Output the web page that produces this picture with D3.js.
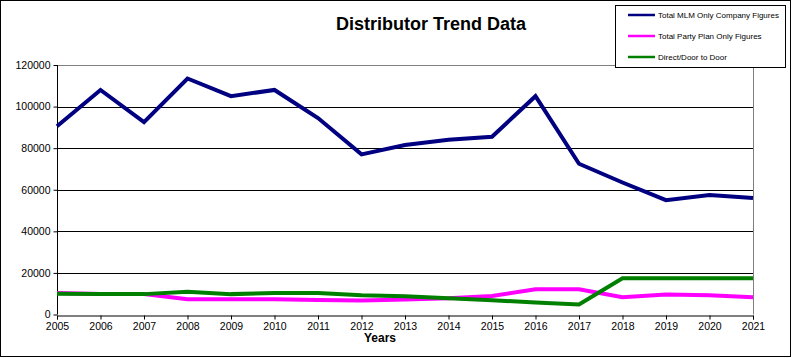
<!DOCTYPE html>
<html><head><meta charset="utf-8">
<script src="https://cdn.jsdelivr.net/npm/d3@7/dist/d3.min.js"></script>
<style>body{margin:0;background:#fff}svg{display:block;font-family:"Liberation Sans",Arial,sans-serif}</style>
</head><body><svg id="c" width="792" height="358"></svg>
<script>
const years = [2005,2006,2007,2008,2009,2010,2011,2012,2013,2014,2015,2016,2017,2018,2019,2020,2021];
const mlm   = [90500,108000,92500,113500,105000,108000,94500,77000,81500,84000,85500,105000,72500,63500,55000,57500,56000];
const party = [10300,9800,9800,7350,7350,7300,7000,6700,7200,7800,8900,12150,12150,8300,9600,9300,8300];
const door  = [10000,9800,9800,11000,9800,10400,10300,9300,8800,7800,6900,5750,4800,17400,17400,17400,17400];
const yTicks = [0,20000,40000,60000,80000,100000,120000];
const seriesNames = ["Total MLM Only Company Figures","Total Party Plan Only Figures","Direct/Door to Door"];
const colors = ["#000080","#FF00FF","#008000"];

const svg = d3.select("#c");
const L=57,R=753,T=65,B=314.5;
const x = d3.scalePoint().domain(years).range([L,R]);
const y = d3.scaleLinear().domain([0,120000]).range([B,T]);

svg.append("rect").attr("x",0.5).attr("y",0.5).attr("width",790).attr("height",356).attr("fill","#fff").attr("stroke","#000");

// gridlines
svg.append("g").selectAll("line").data(yTicks.filter(d=>d>0&&d<120000)).join("line")
  .attr("x1",L).attr("x2",R).attr("y1",d=>Math.round(y(d))+0.5).attr("y2",d=>Math.round(y(d))+0.5)
  .attr("stroke","#000").attr("stroke-width",1);
// plot border top/right gray
svg.append("path").attr("d",`M${L},${Math.round(T)+0.5}H${R+0.5}V${B}`).attr("fill","none").attr("stroke","#808080");

// axes
const ya = svg.append("g").attr("transform",`translate(${L+0.5},0)`)
  .call(d3.axisLeft(y).tickValues(yTicks).tickSize(4).tickPadding(3).tickFormat(d3.format("d")));
const xa = svg.append("g").attr("transform",`translate(0,${Math.round(B)+0.5})`)
  .call(d3.axisBottom(x).tickSize(4).tickPadding(3).tickFormat(d3.format("d")));
[ya,xa].forEach(a=>{a.select(".domain").attr("stroke","#000");a.selectAll(".tick line").attr("stroke","#000");
  a.selectAll("text").attr("fill","#000").style("font-size","10.5px").style("font-family","'Liberation Sans',Arial,sans-serif");});
ya.select(".domain").attr("d",`M0,${B}V${T}`);

// lines
const line = d3.line().x((d,i)=>x(years[i])).y(d=>y(d));
[mlm,party,door].forEach((s,k)=>{
  svg.append("path").datum(s).attr("d",line).attr("fill","none").attr("stroke",colors[k])
    .attr("stroke-width",4).attr("stroke-linejoin","miter");
});

// title
svg.append("text").attr("x",431).attr("y",30).attr("text-anchor","middle")
  .style("font-size","18px").style("font-weight","bold").text("Distributor Trend Data");
svg.append("text").attr("x",380).attr("y",342).attr("text-anchor","middle")
  .style("font-size","12px").style("font-weight","bold").text("Years");

// legend
const lg = svg.append("g");
lg.append("rect").attr("x",615.5).attr("y",5.5).attr("width",170).attr("height",62).attr("fill","#fff").attr("stroke","#000");
seriesNames.forEach((n,i)=>{
  const yy = 15+i*21;
  lg.append("line").attr("x1",628).attr("x2",655).attr("y1",yy).attr("y2",yy).attr("stroke",colors[i]).attr("stroke-width",2.5);
  lg.append("text").attr("x",658).attr("y",yy+3).style("font-size","8px").attr("fill","#000").text(n);
});
</script></body></html>
